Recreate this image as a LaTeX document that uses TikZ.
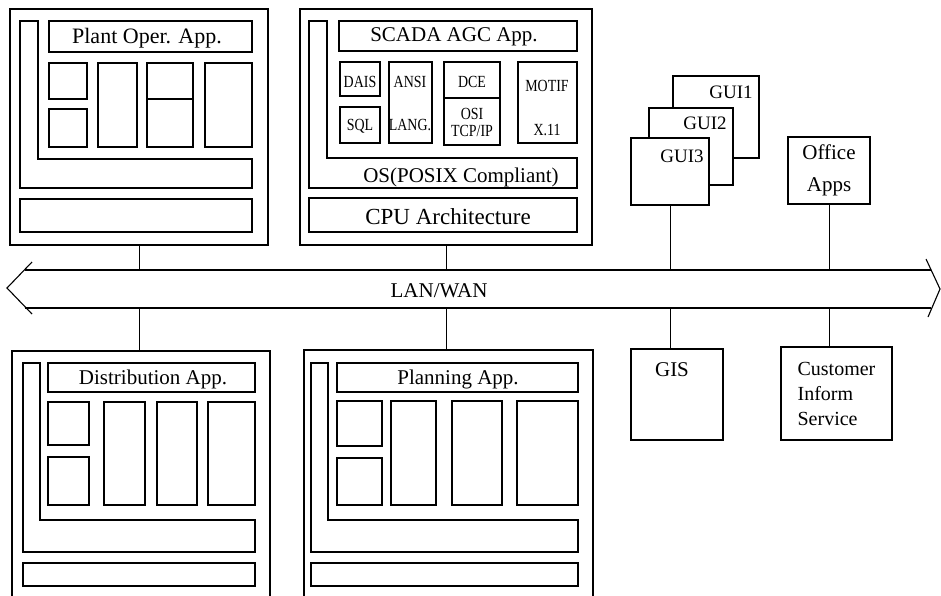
\documentclass[tikz,border=0pt]{standalone}
\usepackage{fontspec}
\setmainfont{Liberation Serif}
\newfontfamily\condserif[FakeStretch=0.82]{Liberation Serif}
\tikzset{
  ln/.style={line width=1.1pt, line join=miter},
  box/.style={ln, draw, fill=white, inner sep=0pt, outer sep=0pt},
  big/.style={font=\fontsize{21}{25}\selectfont, text height=13.9pt, text depth=0pt, inner sep=0pt},
  bigml/.style={font=\fontsize{21}{32}\selectfont},
  mid/.style={font=\fontsize{20}{25}\selectfont},
  gfont/.style={font=\fontsize{19}{22}\selectfont, text height=12.6pt, text depth=0pt, inner sep=0pt},
  small/.style={font=\condserif\fontsize{17}{19}\selectfont, text height=11.3pt, text depth=0pt, inner sep=0pt},
  conn/.style={line width=1pt}
}
% [options]{name}{x1}{y1}{x2}{y2}{text}
\newcommand\bx[7][]{%
  \node[box,minimum width={(#5)-(#3)},minimum height={(#6)-(#4)},#1] (#2)
    at ({((#3)+(#5))/2},{((#4)+(#6))/2}) {#7};}
\begin{document}
\begin{tikzpicture}[x=1pt,y=-1pt]
\useasboundingbox (0,0) rectangle (941,595);
\clip (0,0) rectangle (941,595);

% ---------- top-left: Plant Oper.
\bx{tl}{10}{9}{268}{245}{}
\draw[ln] (20,21) -- (38,21) -- (38,159) -- (252,159) -- (252,188) -- (20,188) -- cycle;
\bx{tltitle}{49}{21}{252}{52}{}
\node[big,font=\fontsize{22}{25}\selectfont,text height=14.6pt] (tltext) at (147,36) {Plant Oper. App.};
\bx{tla}{49}{63}{87}{99}{}
\bx{tlb}{49}{109}{87}{147}{}
\bx{tlc}{98}{63}{137}{147}{}
\bx{tld}{147}{63}{193}{99}{}
\bx{tle}{147}{99}{193}{147}{}
\bx{tlf}{205}{63}{252}{147}{}
\bx{tlcpu}{20}{199}{252}{232}{}

% ---------- top-middle: SCADA
\bx{tm}{300}{9}{592}{245}{}
\draw[ln] (309,21) -- (327,21) -- (327,158) -- (577,158) -- (577,188) -- (309,188) -- cycle;
\bx{tmtitle}{339}{21}{577}{51}{}
\node[big] (tmtext) at (454,35) {SCADA AGC App.};
\bx{daisbox}{340}{62}{380}{96}{}
\node[small] (dais) at (360,82) {DAIS};
\bx{sqlbox}{340}{107}{380}{143}{}
\node[small] (sql) at (360,125) {SQL};
\bx{ansibox}{389}{62}{432}{143}{}
\node[small] (ansi) at (410,82) {ANSI};
\node[small] (lang) at (410,125) {LANG.};
\bx{dcebox}{444}{62}{500}{98}{}
\node[small] (dce) at (472,82) {DCE};
\bx{osibox}{444}{98}{500}{145}{}
\node[small] (osi) at (472,114) {OSI};
\node[small] (tcp) at (472,131) {TCP/IP};
\bx{motifbox}{518}{62}{577}{143}{}
\node[small] (motif) at (547,86) {MOTIF};
\node[small] (x11) at (547,130) {X.11};
\node[big] (os) at (461,176) {OS(POSIX Compliant)};
\bx{tmcpu}{309}{198}{577}{232}{}
\node[big,font=\fontsize{23}{25}\selectfont,text height=15.2pt] (cputext) at (448,217) {CPU Architecture};

% ---------- GUI stack
\bx{gui1}{673}{76}{759}{158}{}
\node[gfont] (g1) at (731,92) {GUI1};
\bx{gui2}{649}{108}{733}{185}{}
\node[gfont] (g2) at (705,123) {GUI2};
\bx{gui3}{631}{138}{709}{205}{}
\node[gfont] (g3) at (682,156) {GUI3};

% ---------- Office Apps
\bx[bigml,align=center]{office}{788}{137}{870}{204}{Office\\Apps}

% ---------- LAN/WAN bus
\node[minimum width=906, minimum height=38, inner sep=0pt, outer sep=0pt] (lan) at (478,289) {};
\draw[ln] (lan.north west) -- (lan.north east);
\draw[ln] (lan.south west) -- (lan.south east);
\coordinate (ltip) at (7,288);
\coordinate (rtip) at (940,289);
\draw[ln] (32,262) -- (ltip) -- (32,314);
\draw[ln] (926,259) -- (rtip) -- (928,317);
\node[big] (lantext) at (439,291) {LAN/WAN};

% ---------- bottom-left: Distribution
\bx{bl}{12}{351}{270}{620}{}
\draw[ln] (23,363) -- (40,363) -- (40,520) -- (255,520) -- (255,552) -- (23,552) -- cycle;
\bx{bltitle}{48}{363}{255}{392}{}
\node[big] (bltext) at (153,378) {Distribution App.};
\bx{bla}{48}{402}{89}{445}{}
\bx{blb}{48}{457}{89}{505}{}
\bx{blc}{104}{402}{145}{505}{}
\bx{bld}{157}{402}{197}{505}{}
\bx{ble}{208}{402}{255}{505}{}
\bx{blcpu}{23}{563}{255}{586}{}

% ---------- bottom-middle: Planning
\bx{bm}{304}{350}{593}{620}{}
\draw[ln] (311,363) -- (328,363) -- (328,520) -- (578,520) -- (578,552) -- (311,552) -- cycle;
\bx{bmtitle}{337}{363}{578}{392}{}
\node[big] (bmtext) at (458,378) {Planning App.};
\bx{bma}{337}{401}{382}{446}{}
\bx{bmb}{337}{458}{382}{505}{}
\bx{bmc}{391}{401}{436}{505}{}
\bx{bmd}{452}{401}{502}{505}{}
\bx{bme}{517}{401}{578}{505}{}
\bx{bmcpu}{311}{563}{578}{586}{}

% ---------- GIS and Customer
\bx{gis}{631}{349}{723}{440}{}
\node[big] (gistext) at (672,370) {GIS};
\bx[mid,align=left]{cust}{781}{347}{892}{440}{Customer\\Inform\\Service}

% ---------- connectors
\draw[conn] (tl.south) -- (tl.south |- lan.north);
\draw[conn] (tm.south) -- (tm.south |- lan.north);
\draw[conn] (gui3.south) -- (gui3.south |- lan.north);
\draw[conn] (office.south) -- (office.south |- lan.north);
\draw[conn] (tl.south |- lan.south) -- (tl.south |- bl.north);
\draw[conn] (tm.south |- lan.south) -- (tm.south |- bm.north);
\draw[conn] (gui3.south |- lan.south) -- (gui3.south |- gis.north);
\draw[conn] (office.south |- lan.south) -- (office.south |- cust.north);
\end{tikzpicture}
\end{document}
